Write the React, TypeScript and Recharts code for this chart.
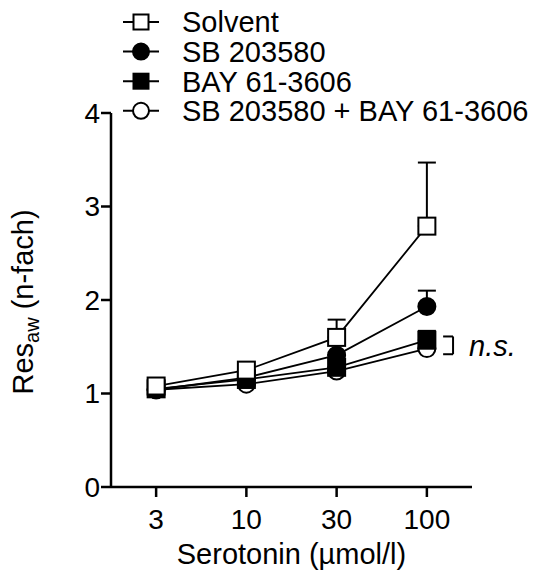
import React from "react";
import { LineChart, Line, XAxis, YAxis, ErrorBar, ReferenceLine, ReferenceDot } from "recharts";

const doses = ["3", "10", "30", "100"];
const yTicks = [0, 1, 2, 3, 4];

const solvent = [1.08, 1.25, 1.6, 2.79];
const solventErr = [0, 0, 0.19, 0.68];
const sb = [1.04, 1.17, 1.41, 1.93];
const sbErr = [0, 0, 0, 0.17];
const bay = [1.05, 1.15, 1.28, 1.57];
const bayErr = [0, 0, 0, 0.1];
const combo = [1.04, 1.1, 1.24, 1.48];
const comboErr = [0, 0, 0, 0];

const series = [
  { key: "solvent", name: "Solvent", shape: "square", filled: false, values: solvent, err: solventErr },
  { key: "sb", name: "SB 203580", shape: "circle", filled: true, values: sb, err: sbErr },
  { key: "bay", name: "BAY 61-3606", shape: "square", filled: true, values: bay, err: bayErr },
  { key: "combo", name: "SB 203580 + BAY 61-3606", shape: "circle", filled: false, values: combo, err: comboErr },
];

const data = doses.map((_, i) => {
  const row: Record<string, any> = { x: i };
  series.forEach((s) => {
    row[s.key] = s.values[i];
    row[s.key + "Err"] = [0, s.err[i]];
  });
  return row;
});

const FONT = "'Liberation Sans', Arial, sans-serif";

function Marker({ cx, cy, shape, filled, size }: any) {
  const fill = filled ? "#000" : "#fff";
  if (shape === "square") {
    return <rect x={cx - size / 2} y={cy - size / 2} width={size} height={size} fill={fill} stroke="#000" strokeWidth={2} />;
  }
  return <circle cx={cx} cy={cy} r={size / 2} fill={fill} stroke="#000" strokeWidth={2} />;
}

// legend drawn as an overlay so it does not shrink the plot area
function LegendBox() {
  return (
    <svg width={534} height={130} style={{ position: "absolute", left: 0, top: 0 }}>
      {series.map((s, i) => {
        const y = 22 + i * 29.6;
        return (
          <g key={s.key}>
            <line x1={123} x2={159} y1={y} y2={y} stroke="#000" strokeWidth={2} />
            <Marker cx={141} cy={y} shape={s.shape} filled={s.filled} size={s.shape === "square" ? 15 : 16} />
            <text x={182} y={y} dy="0.36em" fontSize={29} fontFamily={FONT} fill="#000">
              {s.name}
            </text>
          </g>
        );
      })}
    </svg>
  );
}

function YTitle({ viewBox }: any) {
  const cy = viewBox.y + viewBox.height / 2 + 2;
  return (
    <text x={33} y={cy} transform={`rotate(-90, 33, ${cy})`} textAnchor="middle" fontSize={29} fontFamily={FONT} fill="#000">
      <tspan>Res</tspan>
      <tspan fontSize={20} dy={6}>aw</tspan>
      <tspan dy={-6}> (n-fach)</tspan>
    </text>
  );
}

export default function App() {
  const ordered = [...series].reverse();
  return (
    <div style={{ position: "absolute", left: 0, top: 0, width: 534, height: 572, background: "#fff" }}>
      <LineChart width={534} height={572} data={data} margin={{ top: 113, right: 62, bottom: 0, left: 0 }}>
        <XAxis
          type="number"
          dataKey="x"
          domain={[-0.5, 3.5]}
          ticks={[0, 1, 2, 3]}
          tickFormatter={(v: number) => doses[v]}
          height={85}
          tickSize={10}
          tickMargin={12}
          axisLine={{ stroke: "#000", strokeWidth: 2.5 }}
          tickLine={{ stroke: "#000", strokeWidth: 2.5 }}
          tick={{ fill: "#000", fontSize: 28, fontFamily: FONT }}
          label={{ value: "Serotonin (µmol/l)", position: "insideBottom", offset: 8, fill: "#000", fontSize: 29, fontFamily: FONT }}
        />
        <YAxis
          type="number"
          domain={[0, 4]}
          ticks={yTicks}
          width={111}
          tickSize={10}
          tickMargin={1}
          axisLine={{ stroke: "#000", strokeWidth: 2.5 }}
          tickLine={{ stroke: "#000", strokeWidth: 2.5 }}
          tick={{ fill: "#000", fontSize: 28, fontFamily: FONT }}
          label={{ content: YTitle }}
        />
        {ordered.map((s) => (
          <Line
            key={s.key}
            dataKey={s.key}
            name={s.name}
            stroke="#000"
            strokeWidth={1.8}
            isAnimationActive={false}
            dot={(p: any) => (
              <g key={`${s.key}-${p.index}`}>
                <Marker cx={p.cx} cy={p.cy} shape={s.shape} filled={s.filled} size={17} />
              </g>
            )}
            activeDot={false}
          >
            <ErrorBar dataKey={s.key + "Err"} direction="y" width={9} stroke="#000" strokeWidth={2} />
          </Line>
        ))}
        <ReferenceLine segment={[{ x: 3.18, y: 1.61 }, { x: 3.29, y: 1.61 }]} stroke="#000" strokeWidth={2} />
        <ReferenceLine segment={[{ x: 3.29, y: 1.61 }, { x: 3.29, y: 1.42 }]} stroke="#000" strokeWidth={2} />
        <ReferenceLine segment={[{ x: 3.18, y: 1.42 }, { x: 3.29, y: 1.42 }]} stroke="#000" strokeWidth={2} />
        <ReferenceDot
          x={3.29}
          y={1.51}
          r={0}
          stroke="none"
          fill="none"
          label={{ value: "n.s.", position: "right", offset: 16, fill: "#000", fontSize: 29, fontStyle: "italic", fontFamily: FONT }}
        />
      </LineChart>
      <LegendBox />
    </div>
  );
}
